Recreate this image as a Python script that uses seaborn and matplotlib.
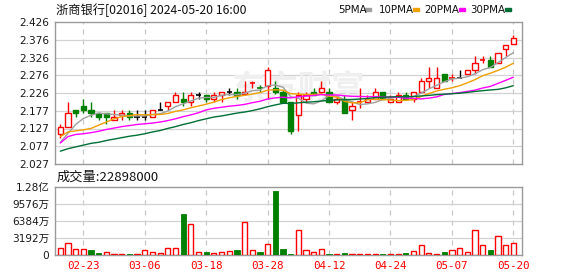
import numpy as np
import pandas as pd
import matplotlib
matplotlib.use("Agg")
import matplotlib.pyplot as plt
import seaborn as sns
from matplotlib.patches import Rectangle

# ---------------- data ----------------
title = "浙商银行[02016] 2024-05-20 16:00"
dates = ["02-20", "02-21", "02-22", "02-23", "02-26", "02-27", "02-28", "02-29",
         "03-01", "03-04", "03-05", "03-06", "03-07", "03-08", "03-11", "03-12",
         "03-13", "03-14", "03-15", "03-18", "03-19", "03-20", "03-21", "03-22",
         "03-25", "03-26", "03-27", "03-28",
         "04-02", "04-03", "04-05", "04-08", "04-09", "04-10", "04-11", "04-12",
         "04-15", "04-16", "04-17", "04-18", "04-19", "04-22", "04-23", "04-24",
         "04-25", "04-26", "04-29", "04-30",
         "05-02", "05-03", "05-06", "05-07", "05-08", "05-09", "05-10", "05-13",
         "05-14", "05-16", "05-17", "05-20"]
opens = [2.11, 2.13, 2.18, 2.19, 2.18, 2.17, 2.17, 2.15, 2.165, 2.17,
         2.16, 2.16, 2.16, 2.18, 2.19, 2.20, 2.21, 2.20, 2.22, 2.22,
         2.21, 2.22, 2.23, 2.23, 2.225, 2.255, 2.24, 2.245, 2.24, 2.23,
         2.20, 2.165, 2.21, 2.23, 2.23, 2.23, 2.20, 2.21, 2.18, 2.20,
         2.20, 2.21, 2.23, 2.20, 2.20, 2.22, 2.21, 2.23, 2.26, 2.24,
         2.28, 2.27, 2.27, 2.28, 2.29, 2.32, 2.32, 2.31, 2.35, 2.365]
highs = [2.14, 2.20, 2.18, 2.21, 2.20, 2.17, 2.17, 2.18, 2.18, 2.18,
         2.18, 2.18, 2.18, 2.20, 2.20, 2.23, 2.23, 2.23, 2.23, 2.22,
         2.23, 2.23, 2.24, 2.24, 2.26, 2.26, 2.25, 2.30, 2.26, 2.235,
         2.20, 2.23, 2.23, 2.24, 2.26, 2.24, 2.22, 2.22, 2.20, 2.24,
         2.22, 2.24, 2.23, 2.22, 2.23, 2.23, 2.23, 2.27, 2.30, 2.30,
         2.28, 2.28, 2.29, 2.29, 2.33, 2.33, 2.33, 2.34, 2.36, 2.39]
lows = [2.10, 2.13, 2.16, 2.17, 2.16, 2.15, 2.14, 2.15, 2.15, 2.15,
        2.15, 2.15, 2.16, 2.18, 2.18, 2.20, 2.19, 2.19, 2.21, 2.20,
        2.20, 2.20, 2.22, 2.21, 2.22, 2.24, 2.23, 2.21, 2.225, 2.20,
        2.11, 2.12, 2.20, 2.22, 2.225, 2.20, 2.195, 2.17, 2.15, 2.185,
        2.20, 2.21, 2.21, 2.20, 2.20, 2.21, 2.20, 2.23, 2.24, 2.24,
        2.26, 2.26, 2.27, 2.28, 2.28, 2.31, 2.30, 2.31, 2.33, 2.365]
closes = [2.13, 2.17, 2.17, 2.18, 2.17, 2.16, 2.16, 2.16, 2.17, 2.16,
          2.16, 2.16, 2.18, 2.18, 2.20, 2.22, 2.20, 2.22, 2.22, 2.21,
          2.22, 2.23, 2.23, 2.22, 2.23, 2.255, 2.24, 2.29, 2.23, 2.20,
          2.12, 2.22, 2.22, 2.22, 2.24, 2.20, 2.21, 2.17, 2.19, 2.20,
          2.21, 2.23, 2.21, 2.21, 2.22, 2.21, 2.23, 2.26, 2.27, 2.27,
          2.26, 2.27, 2.27, 2.29, 2.31, 2.32, 2.30, 2.34, 2.36, 2.38]
volumes = [13020000, 22310000, 11160000, 11160000, 9920000, 4340000, 5580000, 2480000, 2480000, 2480000,
           2480000, 9300000, 5580000, 4340000, 13020000, 13020000, 76860000, 58260000, 5580000, 6200000,
           4340000, 5580000, 7440000, 9920000, 61360000, 9300000, 6200000, 21070000, 119660000, 11780000,
           2480000, 46500000, 9300000, 6200000, 11160000, 2480000, 1860000, 4340000, 1860000, 1860000,
           1860000, 1860000, 2480000, 1860000, 2480000, 4340000, 8060000, 19220000, 4340000, 2480000,
           6200000, 9300000, 13020000, 5580000, 46500000, 19220000, 9920000, 35340000, 19220000, 22898000]

# moving-average values at the start of the window (need earlier history)
ma5_head = [2.088, 2.113, 2.138, 2.155]
ma10_head = [2.104, 2.117, 2.120, 2.123, 2.127, 2.136, 2.145, 2.154, 2.160]
ma20_head = [2.086, 2.104, 2.110, 2.112, 2.115, 2.119, 2.124, 2.128, 2.132, 2.135,
             2.138, 2.140, 2.142, 2.145, 2.149, 2.154, 2.160, 2.165, 2.171]
ma30_head = [2.063, 2.070, 2.075, 2.080, 2.085, 2.088, 2.093, 2.097, 2.101, 2.105,
             2.108, 2.112, 2.117, 2.121, 2.127, 2.132, 2.138, 2.143, 2.149, 2.154,
             2.159, 2.162, 2.166, 2.170, 2.173, 2.177, 2.182, 2.188, 2.193]

ma_labels = ["5PMA", "10PMA", "20PMA", "30PMA"]
x_tick_labels = ["02-23", "03-06", "03-18", "03-28", "04-12", "04-24", "05-07", "05-20"]
price_tick_labels = ["2.027", "2.077", "2.127", "2.177", "2.226", "2.276", "2.326", "2.376", "2.426"]
vol_tick_values = [0, 31920000, 63840000, 95760000, 127680000]
vol_tick_labels = ["0", "3192万", "6384万", "9576万", "1.28亿"]
watermark = "东方财富"

# ---------------- style ----------------
sns.set_theme(style="white")
plt.rcParams["font.family"] = ["DejaVu Sans", "Noto Sans CJK SC"]

RED = "#ff0000"
GREEN = "#008000"
MA_COLORS = ["#a0a0a0", "#f0a000", "#ff00ff", "#006f36"]
FRAME = "#9a9a9a"
HGRID = "#d2d2d2"
VGRID = "#c8c8c8"

df = pd.DataFrame({"date": dates, "open": opens, "high": highs, "low": lows,
                   "close": closes, "volume": volumes})
df["i"] = np.arange(len(df))
prev_close = df["close"].shift(1)

def ma(n, head):
    s = df["close"].rolling(n).mean()
    s.iloc[:len(head)] = head
    return s

mas = [ma(5, ma5_head), ma(10, ma10_head), ma(20, ma20_head), ma(30, ma30_head)]

W, H = 578, 276
fig = plt.figure(figsize=(W / 100, H / 100), dpi=100)
L, R = 55, 522
ax = fig.add_axes([L / W, 1 - 164 / H, (R - L) / W, (164 - 22) / H])
axv = fig.add_axes([L / W, 1 - 255 / H, (R - L) / W, (255 - 187) / H])

xlim = (-0.69, len(df) - 1 + 1.13)
tick_pos = [dates.index(t) for t in x_tick_labels]

for a in (ax, axv):
    a.set_facecolor("white")
    a.set_xlim(*xlim)
    for sp in a.spines.values():
        sp.set_visible(True)
        sp.set_color(FRAME)
        sp.set_linewidth(1.0)
    a.set_xticks(tick_pos)
    a.grid(False)
    for tp in tick_pos:
        a.axvline(tp, color=VGRID, lw=0.9, ls=(0, (4, 4)), zorder=0)
    a.tick_params(axis="y", length=3, width=0.8, color=FRAME, pad=1,
                  labelsize=7.6, labelcolor="#1a1a1a")

# ---------------- price panel ----------------
pt = [float(t) for t in price_tick_labels]
ax.set_ylim(pt[0], pt[-1])
ax.set_yticks(np.linspace(pt[0], pt[-1], len(pt)))
ax.set_yticklabels(price_tick_labels)
for y in np.linspace(pt[0], pt[-1], len(pt))[1:-1]:
    ax.axhline(y, color=HGRID, lw=0.9, zorder=0)
ax.tick_params(axis="x", length=0, labelbottom=False)

ax.text(0.52, 0.52, watermark, transform=ax.transAxes, ha="center", va="center",
        fontsize=24, color="#efefef", family=["Noto Sans CJK SC"], fontweight="bold", zorder=0.5)

bw = 0.68
for r in df.itertuples():
    if r.close > r.open:
        col, face = RED, "white"
    elif r.close < r.open:
        col, face = GREEN, GREEN
    else:
        pc = prev_close.iloc[r.i]
        if np.isnan(pc) or r.close > pc:
            col = RED
        elif r.close < pc:
            col = GREEN
        else:
            col = "black"
        face = None
    ax.vlines(r.i, r.low, r.high, color=col, lw=1.0, zorder=2)
    if face is None:
        ax.hlines(r.close, r.i - bw / 2, r.i + bw / 2, color=col, lw=1.2, zorder=3)
    else:
        lo, hi = min(r.open, r.close), max(r.open, r.close)
        ax.bar(r.i, hi - lo, bottom=lo, width=bw, facecolor=face, edgecolor=col,
               linewidth=1.0, zorder=3)

for s, c in zip(mas, MA_COLORS):
    sns.lineplot(x=df["i"], y=s, ax=ax, color=c, linewidth=1.0, legend=False, zorder=4)
ax.set_xlabel("")
ax.set_ylabel("")
ax.set_xlim(*xlim)
ax.set_ylim(pt[0], pt[-1])

# ---------------- volume panel ----------------
up = (df["close"] >= prev_close) | prev_close.isna()
axv.bar(df["i"][up], df["volume"][up], width=bw, facecolor="white", edgecolor=RED,
        linewidth=1.0, zorder=3)
axv.bar(df["i"][~up], df["volume"][~up], width=bw, facecolor=GREEN, edgecolor=GREEN,
        linewidth=0.6, zorder=3)
axv.set_ylim(vol_tick_values[0], vol_tick_values[-1])
axv.set_yticks(vol_tick_values)
axv.set_yticklabels(vol_tick_labels)
for y in vol_tick_values[1:-1]:
    axv.axhline(y, color=HGRID, lw=0.9, zorder=0)
axv.set_xticklabels(x_tick_labels)
axv.tick_params(axis="x", length=0, pad=4, labelsize=7.8, labelcolor=RED)
for lab in axv.get_xticklabels():
    lab.set_family("DejaVu Sans Mono")
axv.set_xlim(*xlim)

# ---------------- header texts ----------------
fig.text(56 / W, 1 - 10 / H, title, ha="left", va="center", fontsize=8.8,
         family=["Noto Sans CJK SC", "DejaVu Sans"], color="#111111")
leg_text_x = [338, 379, 424.5, 470.6]
leg_mark_x = [365, 413, 459, 505]
for lab, tx, mx, c in zip(ma_labels, leg_text_x, leg_mark_x, MA_COLORS):
    fig.text(tx / W, 1 - 10 / H, lab, ha="left", va="center", fontsize=7.4,
             family=["DejaVu Sans"], color="#111111")
    fig.patches.append(Rectangle((mx / W, 1 - 11 / H), 6 / W, 3 / H,
                                 transform=fig.transFigure, color=c))
fig.text(57 / W, 1 - 177 / H, f"成交量:{volumes[-1]}", ha="left", va="center", fontsize=9.5,
         family=["Noto Sans CJK SC", "DejaVu Sans"], color="#111111")

fig.savefig("out.png", dpi=100, facecolor="white")
